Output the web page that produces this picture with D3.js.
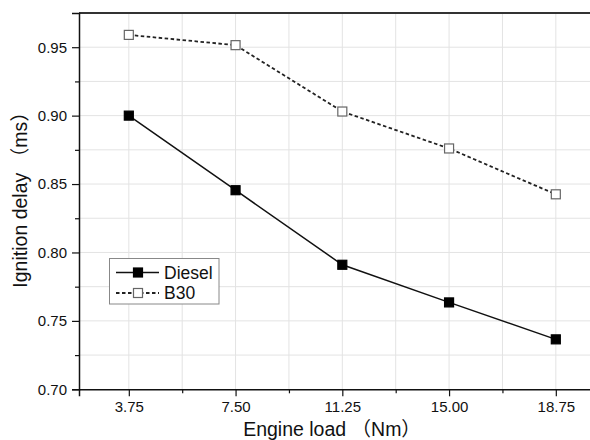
<!DOCTYPE html>
<html>
<head>
<meta charset="utf-8">
<script src="https://cdn.jsdelivr.net/npm/d3@7"></script>
<style>
  html, body { margin: 0; padding: 0; background: #fff; }
  svg { display: block; }
  text { font-family: "Liberation Sans", Arial, "Noto Sans CJK SC", sans-serif; fill: #111; }
</style>
</head>
<body>
<svg id="chart" width="590" height="440"></svg>
<script>
// Engine load levels (Nm)
const loads = [3.75, 7.50, 11.25, 15.00, 18.75];
// Ignition delay (ms) for each fuel
const diesel = [0.900, 0.8455, 0.791, 0.7635, 0.7365];
const b30 = [0.959, 0.9515, 0.903, 0.876, 0.8425];
const seriesNames = ["Diesel", "B30"];
const xTickValues = [3.75, 7.50, 11.25, 15.00, 18.75];
const yTickValues = [0.70, 0.75, 0.80, 0.85, 0.90, 0.95];

const svg = d3.select("#chart");
const margin = { left: 79, top: 13 };

const x = d3.scaleLinear().domain([2, 20]).range([margin.left, 591.4]);
const y = d3.scaleLinear().domain([0.70, 0.975]).range([389.3, margin.top]);

const xMinor = xTickValues.slice(0, -1).map((v, i) => (v + xTickValues[i + 1]) / 2);
const yMinor = yTickValues.map(v => v + 0.025).filter(v => v < 0.975);

// grid
const grid = svg.append("g").attr("stroke", "#e3e3e3").attr("stroke-width", 1);
grid.selectAll(".gx").data(xTickValues.concat(xMinor)).join("line")
  .attr("x1", d => x(d)).attr("x2", d => x(d))
  .attr("y1", y(0.975)).attr("y2", y(0.70));
grid.selectAll(".gy").data(yTickValues.slice(1).concat(yMinor)).join("line")
  .attr("x1", x(2)).attr("x2", x(20))
  .attr("y1", d => y(d)).attr("y2", d => y(d));

// top frame line
svg.append("line")
  .attr("x1", x(2)).attr("x2", x(20))
  .attr("y1", y(0.975)).attr("y2", y(0.975))
  .attr("stroke", "#333").attr("stroke-width", 2);

// axes
const xAxis = d3.axisBottom(x).tickValues(xTickValues)
  .tickFormat(d3.format(".2f")).tickSize(7).tickPadding(5);
const xAxisMinor = d3.axisBottom(x).tickValues(xMinor).tickFormat("").tickSize(4);
const yAxis = d3.axisLeft(y).tickValues(yTickValues)
  .tickFormat(d3.format(".2f")).tickSize(7).tickPadding(5);
const yAxisMinor = d3.axisLeft(y).tickValues(yMinor).tickFormat("").tickSize(4);

function styleAxis(g) {
  g.select(".domain").attr("stroke", "#111").attr("stroke-width", 1.5);
  g.selectAll(".tick line").attr("stroke", "#111").attr("stroke-width", 1.2);
  g.selectAll(".tick text").attr("font-size", 15)
    .attr("font-family", "'Liberation Sans', Arial, sans-serif").attr("fill", "#1a1a1a");
}

svg.append("g").attr("transform", `translate(0,${y(0.70)})`).call(xAxisMinor).call(styleAxis)
  .select(".domain").remove();
svg.append("g").attr("transform", `translate(${x(2)},0)`).call(yAxisMinor).call(styleAxis)
  .select(".domain").remove();
svg.append("g").attr("transform", `translate(0,${y(0.70)})`).call(xAxis).call(styleAxis);
svg.append("g").attr("transform", `translate(${x(2)},0)`).call(yAxis).call(styleAxis);

// axis titles
svg.append("text")
  .attr("x", 332).attr("y", 436)
  .attr("text-anchor", "middle").attr("font-size", 19.5)
  .text("Engine load （Nm）");
svg.append("text")
  .attr("transform", "translate(27,195) rotate(-90)")
  .attr("text-anchor", "middle").attr("font-size", 19.5)
  .text("Ignition delay （ms）");

// series
const series = [
  { name: seriesNames[0], values: diesel, dash: null, fill: "#000", stroke: "#000", lineColor: "#111", lw: 1.5 },
  { name: seriesNames[1], values: b30, dash: "3.5,2.5", fill: "#fff", stroke: "#666", lineColor: "#222", lw: 1.8 }
];

const line = d3.line().x(d => x(d[0])).y(d => y(d[1]));
const ms = 9;

series.forEach(s => {
  const pts = loads.map((l, i) => [l, s.values[i]]);
  svg.append("path").datum(pts)
    .attr("fill", "none").attr("stroke", s.lineColor).attr("stroke-width", s.lw)
    .attr("stroke-dasharray", s.dash).attr("d", line);
  svg.append("g").selectAll("rect").data(pts).join("rect")
    .attr("x", d => x(d[0]) - ms / 2).attr("y", d => y(d[1]) - ms / 2)
    .attr("width", ms).attr("height", ms)
    .attr("fill", s.fill).attr("stroke", s.stroke).attr("stroke-width", 1.2);
});

// legend
const lg = svg.append("g");
lg.append("rect").attr("x", 109.5).attr("y", 258.5).attr("width", 109.5).attr("height", 45.5)
  .attr("fill", "#fff").attr("stroke", "#888").attr("stroke-width", 1);
series.forEach((s, i) => {
  const cy = 272.5 + i * 20.5;
  lg.append("line").attr("x1", 116).attr("x2", 159).attr("y1", cy).attr("y2", cy)
    .attr("stroke", s.lineColor).attr("stroke-width", s.lw).attr("stroke-dasharray", s.dash);
  lg.append("rect").attr("x", 138 - ms / 2).attr("y", cy - ms / 2).attr("width", ms).attr("height", ms)
    .attr("fill", s.fill).attr("stroke", s.stroke).attr("stroke-width", 1.2);
  lg.append("text").attr("x", 164).attr("y", cy + 6).attr("font-size", 17.5).text(s.name);
});
</script>
</body>
</html>
